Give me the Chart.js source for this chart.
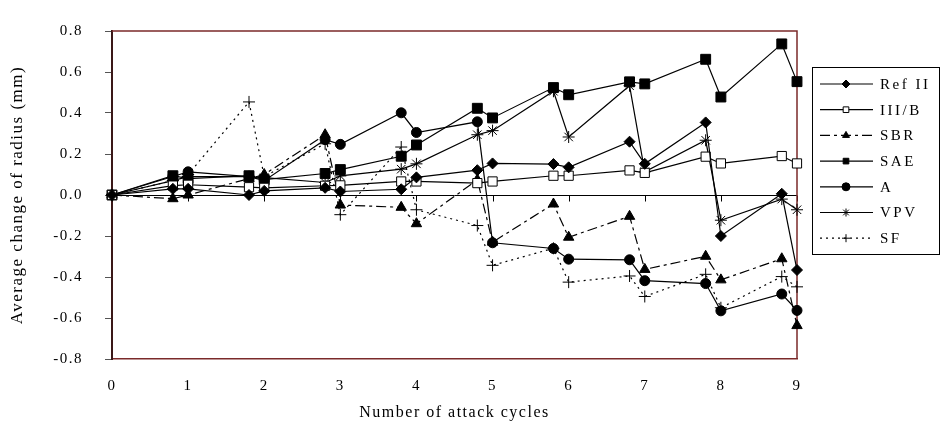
<!DOCTYPE html>
<html>
<head>
<meta charset="utf-8">
<script src="https://cdn.jsdelivr.net/npm/chart.js@4.4.1/dist/chart.umd.min.js"></script>
<style>
  html, body { margin: 0; padding: 0; background: #fff; }
  canvas { display: block; }
</style>
</head>
<body>
<canvas id="chart" width="940" height="426"></canvas>
<script>
// attack cycle positions (the first sample of each cycle sits a bit before the integer)
const cycles = [0, 0.8, 1, 1.8, 2, 2.8, 3, 3.8, 4, 4.8, 5, 5.8, 6, 6.8, 7, 7.8, 8, 8.8, 9];

const refII = [0, 0.03, 0.03, 0.0, 0.02, 0.035, 0.017, 0.028, 0.086, 0.121, 0.154, 0.151, 0.135, 0.26, 0.152, 0.354, -0.20, 0.006, -0.366];
const iiiB  = [0, 0.046, 0.05, 0.038, 0.035, 0.045, 0.047, 0.066, 0.066, 0.058, 0.066, 0.094, 0.094, 0.12, 0.108, 0.187, 0.154, 0.19, 0.154];
const sbr   = [0, -0.018, 0.0, 0.08, 0.10, 0.294, -0.049, -0.06, -0.14, 0.074, -0.23, -0.044, -0.206, -0.104, -0.363, -0.299, -0.414, -0.311, -0.637];
const sae   = [0, 0.094, 0.08, 0.094, 0.075, 0.105, 0.124, 0.189, 0.244, 0.423, 0.376, 0.524, 0.489, 0.552, 0.542, 0.662, 0.478, 0.737, 0.553];
const serA  = [0, 0.09, 0.113, 0.09, 0.07, 0.27, 0.247, 0.401, 0.305, 0.357, -0.233, -0.261, -0.313, -0.316, -0.418, -0.432, -0.565, -0.483, -0.563];
const vpv   = [0, 0.07, 0.09, 0.09, 0.085, 0.061, 0.093, 0.126, 0.152, 0.294, 0.314, 0.506, 0.283, 0.533, 0.113, 0.267, -0.123, -0.02, -0.072];
const sf    = [0, 0.07, 0.1, 0.454, 0.09, 0.25, -0.096, 0.234, -0.072, -0.149, -0.343, -0.26, -0.425, -0.395, -0.495, -0.387, -0.55, -0.398, -0.448];

const xTicks = [0, 1, 2, 3, 4, 5, 6, 7, 8, 9];
const yMin = -0.8, yMax = 0.8, yStep = 0.2;

const FONT = "'Liberation Serif', 'Times New Roman', serif";

const pts = vals => vals.map((v, i) => ({ x: cycles[i], y: v }));

const series = (label, vals, style, radius, fill, dash) => ({
    label: label,
    data: pts(vals),
    borderColor: "#000",
    borderWidth: 1.2,
    borderDash: dash || [],
    pointStyle: style,
    pointRadius: radius,
    pointBackgroundColor: fill,
    pointBorderColor: "#000",
    pointBorderWidth: 1,
    tension: 0,
    fill: false,
    clip: false,
});

const datasets = [
    series("Ref II", refII, "rectRot", 5.5, "#000"),
    series("III/B", iiiB, "rect", 6.5, "#fff"),
    series("SBR", sbr, "triangle", 6, "#000", [10, 4, 3, 4]),
    series("SAE", sae, "rect", 7, "#000"),
    series("A", serA, "circle", 5, "#000"),
    series("VPV", vpv, "star", 6, "#000"),
    series("SF", sf, "cross", 6, "#000", [2, 4]),
];

const spacing = {
    id: "spacing",
    beforeDraw(chart) {
        chart.ctx.letterSpacing = "1.5px";
    },
};

const frame = {
    id: "frame",
    beforeDatasetsDraw(chart) {
        const { ctx, chartArea: a, scales } = chart;
        const y0 = Math.round(scales.y.getPixelForValue(0)) + 0.5;
        ctx.save();
        ctx.strokeStyle = "#000";
        ctx.lineWidth = 1;
        ctx.beginPath();
        ctx.moveTo(a.left, y0);
        ctx.lineTo(a.right, y0);
        xTicks.forEach(t => {
            const x = Math.round(scales.x.getPixelForValue(t)) + 0.5;
            ctx.moveTo(x, y0);
            ctx.lineTo(x, y0 + 6);
        });
        ctx.stroke();
        ctx.strokeStyle = "#7b2a2a";
        ctx.lineWidth = 1.5;
        ctx.beginPath();
        ctx.moveTo(a.left, a.top);
        ctx.lineTo(a.right, a.top);
        ctx.lineTo(a.right, a.bottom);
        ctx.stroke();
        ctx.restore();
    },
};

const legendBox = {
    id: "legendBox",
    afterDraw(chart) {
        const ctx = chart.ctx;
        const left = 812.5, top = 67.5, right = 939.5, bottom = 254.5;
        ctx.save();
        ctx.strokeStyle = "#000";
        ctx.lineWidth = 1;
        ctx.strokeRect(left, top, right - left, bottom - top);
        chart.data.datasets.forEach((ds, i) => {
            const y = 84 + i * 25.7;
            ctx.setLineDash(ds.borderDash);
            ctx.lineWidth = 1.2;
            ctx.beginPath();
            ctx.moveTo(820, y);
            ctx.lineTo(873, y);
            ctx.stroke();
            ctx.setLineDash([]);
            ctx.fillStyle = ds.pointBackgroundColor;
            ctx.lineWidth = 1;
            Chart.helpers.drawPoint(ctx, { pointStyle: ds.pointStyle, radius: 4, rotation: 0, borderWidth: 1 }, 846, y);
            ctx.fillStyle = "#000";
            ctx.letterSpacing = "2.5px";
            ctx.font = "15px " + FONT;
            ctx.textBaseline = "middle";
            ctx.textAlign = "left";
            ctx.fillText(ds.label, 880, y + 1);
        });
        ctx.restore();
    },
};

new Chart(document.getElementById("chart"), {
    type: "line",
    data: { datasets: datasets },
    options: {
        responsive: false,
        devicePixelRatio: 1,
        animation: false,
        layout: { padding: { top: 20, right: 143, left: 0, bottom: 0 } },
        plugins: {
            legend: { display: false },
            tooltip: { enabled: false },
        },
        scales: {
            x: {
                type: "linear",
                min: 0,
                max: 9,
                afterBuildTicks: scale => {
                    scale.ticks = xTicks.map(v => ({ value: v }));
                },
                afterFit: scale => { scale.height = 67; },
                grid: { display: false },
                border: { display: true, color: "#7b2a2a", width: 1.5 },
                ticks: {
                    color: "#000",
                    padding: 10,
                    font: { family: FONT, size: 15 },
                    callback: v => String(v),
                },
                title: {
                    display: true,
                    text: "Number of attack cycles",
                    color: "#000",
                    font: { family: FONT, size: 16 },
                    padding: { top: 0, bottom: 4 },
                },
            },
            y: {
                min: yMin,
                max: yMax,
                afterFit: scale => { scale.width = 112; },
                ticks: {
                    stepSize: yStep,
                    color: "#000",
                    padding: 22,
                    font: { family: FONT, size: 15 },
                    callback: v => (Math.abs(v) < 1e-9 ? "0.0" : v.toFixed(1)),
                },
                grid: {
                    drawOnChartArea: false,
                    drawTicks: true,
                    tickLength: 7,
                    color: "#555",
                },
                border: { display: true, color: "#3a1818", width: 2 },
                title: {
                    display: true,
                    text: "Average change of radius (mm)",
                    color: "#000",
                    font: { family: FONT, size: 17 },
                    padding: { top: 7, bottom: 0 },
                },
            },
        },
    },
    plugins: [spacing, frame, legendBox],
});
</script>
</body>
</html>
